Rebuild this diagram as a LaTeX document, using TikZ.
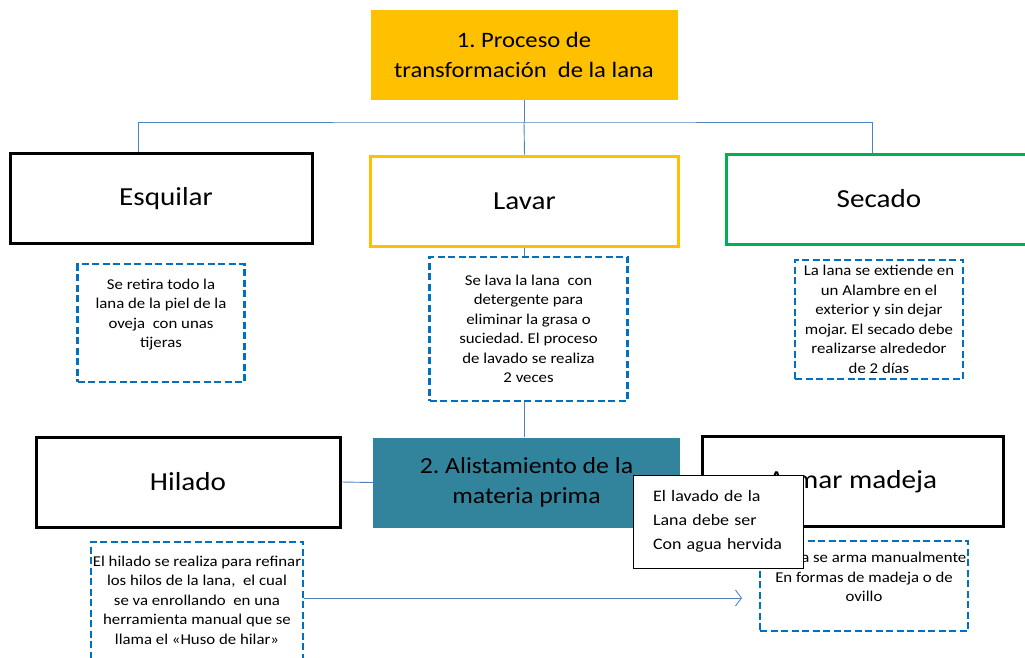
\documentclass[tikz,border=0pt]{standalone}
\usepackage{fontspec}
\setmainfont[FakeStretch=1.12]{Carlito}
\usepackage{tikz}
\usetikzlibrary{positioning}
\usetikzlibrary{arrows.meta}

\definecolor{lanaorange}{HTML}{FFC000}
\definecolor{lanagreen}{HTML}{00B050}
\definecolor{lanateal}{HTML}{31849B}
\definecolor{dashblue}{HTML}{0070C0}
\definecolor{linkblue}{HTML}{4F81BD}

\frenchspacing
\begin{document}
\begin{tikzpicture}[ node distance=12pt,
	every node/.style={inner sep=0pt},
	stepbox/.style={draw, line width=3pt, minimum width=302pt, minimum height=90pt, font=\fontsize{26}{30}\selectfont},
	titlebox/.style={fill, minimum width=307pt, minimum height=90pt, align=center},
	descbox/.style={draw=dashblue, line width=2.2pt, dash pattern=on 7pt off 3.5pt, align=center,
		font=\fontsize{15}{19.5}\selectfont},
	link/.style={draw=linkblue, line width=0.9pt}
	]
	\useasboundingbox (0,0) rectangle (1025pt,-658pt);

	\node[titlebox, fill=lanaorange, font=\fontsize{22}{30}\selectfont] (proc) at (524pt,-55pt) {1. Proceso de\\transformación\ \ de la lana};
	\node[stepbox] (esq) at (161pt,-198.5pt) {\hspace*{10pt}Esquilar};
	\node[stepbox, draw=lanaorange, minimum width=308pt] (lav) at (524.5pt,-201pt) {Lavar};
	\node[stepbox, draw=lanagreen, minimum width=306pt] (sec) at (879pt,-199pt) {Secado};

	\node[descbox, minimum width=167pt, minimum height=118pt] (esqd) [below=18pt of esq] {Se retira todo la\\lana de la piel de la\\oveja\ \ con unas\\tijeras\\\mbox{}};
	\node[descbox, minimum width=198pt, minimum height=144pt] (lavd) [below=8pt of lav, xshift=4pt] {Se lava la lana\ \ con\\detergente para\\eliminar la grasa o\\suciedad. El proceso\\de lavado se realiza\\2 veces};
	\node[descbox, minimum width=168pt, minimum height=119pt] (secd) [below=13pt of sec] {La lana se extiende en\\un Alambre en el\\exterior y sin dejar\\mojar. El secado debe\\realizarse alrededor\\de 2 días};

	\node[titlebox, fill=lanateal, font=\fontsize{23}{30}\selectfont] (alis) at (526.5pt,-482.5pt) {2. Alistamiento de la\\materia prima};
	\node[stepbox, minimum width=304pt] (hil) at (188pt,-482pt) {Hilado};
	\node[stepbox, minimum width=301pt] (arm) at (852.5pt,-481.5pt) {Armar madeja};

	\node[descbox, minimum width=212pt, minimum height=117pt] (hild) [below=12pt of hil, xshift=9pt] {El hilado se realiza para refinar\\los hilos de la lana,\ \ el cual\\se va enrollando\ \ en una\\herramienta manual que se\\llama el «Huso de hilar»};
	\node[descbox, minimum width=208pt, minimum height=90pt, anchor=north] (armd) at (864pt,-540pt) {};
	\node[anchor=north, align=center, font=\fontsize{15}{19.5}\selectfont] (armt) at ([yshift=-12pt]armd.north) {La lana se arma manualmente\\En formas de madeja o de\\ovillo};

	\node[draw, fill=white, line width=0.8pt, minimum width=170pt, minimum height=93pt,
		align=left, font=\fontsize{16}{24}\selectfont, text width=130pt] (nota) at (718pt,-521.5pt) {El lavado de la\\Lana debe ser\\Con agua hervida};

	% connectors
	\coordinate (fork) at (524pt,-122pt);
	\path[link] (proc.south) -- (fork);
	\path[link] (esq.north -| 138pt,0) |- (fork) -| (sec.north -| 872pt,0);
	\path[link] (fork) -- (lav.north);
	\path[link] (lav.south -| 524pt,0) -- (lavd.north -| 524pt,0);
	\path[link] (lavd.south -| 524pt,0) -- (alis.north -| 524pt,0);
	\path[link] (hil.east) -- (alis.west);
	\coordinate (tip) at (742pt,-598pt);
	\path[link, -{Straight Barb[length=6pt,width=16pt]}] (hild.east |- tip) -- (tip);
\end{tikzpicture}
\end{document}
